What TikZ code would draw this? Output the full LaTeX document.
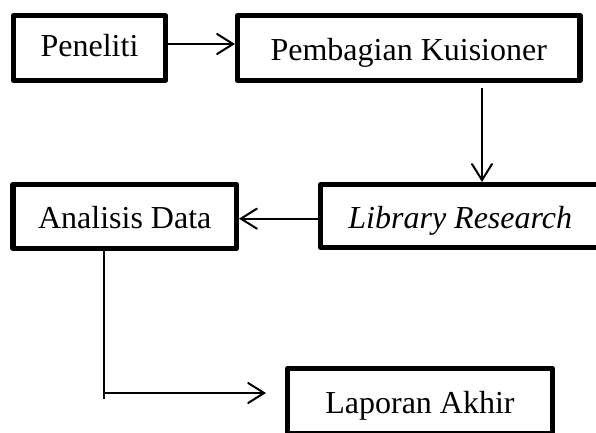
\documentclass[tikz,border=0pt]{standalone}
\usepackage{fontspec}
\setmainfont{Liberation Serif}
\usetikzlibrary{arrows.meta}
\begin{document}
\begin{tikzpicture}[x=0.75pt,y=-0.75pt,
  box/.style={draw, rectangle, line width=3.8pt, line join=round, inner sep=0pt,
    font=\fontsize{24pt}{28pt}\selectfont, text depth=0pt},
  conn/.style={line width=1.5pt},
  arr/.style={conn, -{Straight Barb[length=12pt,width=15pt,line cap=round]}}]
\useasboundingbox (0,0) rectangle (596,432);
\node[box, minimum width=114pt, minimum height=48.75pt, text height=12pt] (p) at (89.5,48) {Peneliti};
\node[box, minimum width=256.9pt, minimum height=48.75pt, text height=18.5pt] (k) at (408.75,48) {Pembagian Kuisioner};
\node[box, minimum width=167.6pt, minimum height=48pt, text height=17.25pt] (a) at (124.75,216.5) {Analisis Data};
\node[box, minimum width=209.6pt, minimum height=47.25pt, text height=18pt] (l) at (460.25,216) {\itshape Library Research};
\node[box, minimum width=198.75pt, minimum height=48.75pt, text height=18pt] (r) at (420,401) {Laporan Akhir};
\coordinate (c1) at (482,88);
\coordinate (c2) at (104,399);
\coordinate (c3) at (266,393);
\draw[arr] ([yshift=3pt]p.east) -- ([yshift=3pt]p.east -| k.west);
\draw[arr] (c1) -- (c1 |- l.north);
\draw[arr] ([yshift=-2pt]l.west) -- ([yshift=-2pt]l.west -| a.east);
\draw[conn] (a.south -| c2) -- (c2);
\draw[arr] (c2 |- c3) -- (c3);
\end{tikzpicture}
\end{document}
